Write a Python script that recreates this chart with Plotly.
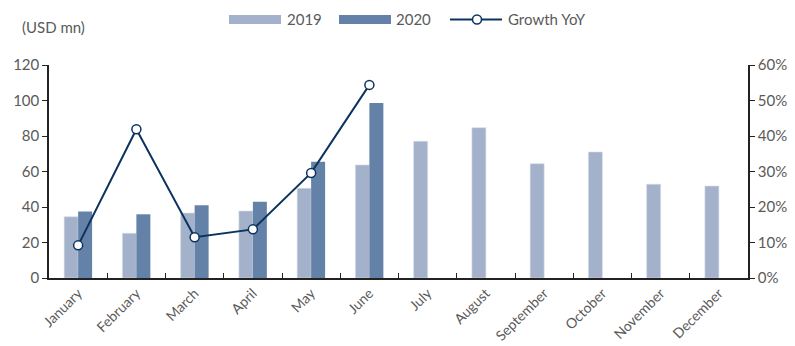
import plotly.graph_objects as go

months = ["January", "February", "March", "April", "May", "June", "July",
          "August", "September", "October", "November", "December"]
sales_2019 = [34.5, 25.2, 36.6, 37.7, 50.5, 63.7, 77.0, 84.7, 64.4, 71.0, 52.8, 51.8]
sales_2020 = [37.5, 35.9, 41.0, 43.0, 65.5, 98.6]
growth_yoy = [0.092, 0.419, 0.115, 0.137, 0.296, 0.544]

C2019 = "#A3B2CA"
C2020 = "#6482A7"
CLINE = "#0B335E"
TXT = "#5a5a5a"
FONT = "Lato"

W, H = 795, 346
L, R, T, B = 49, 47, 65, 68
PW, PH = W - L - R, H - T - B


def px(x):
    return (x - L) / PW


def py(y):
    return (H - B - y) / PH


fig = go.Figure()
fig.add_trace(go.Bar(x=months, y=sales_2019, name="2019", marker_color=C2019,
                     marker_line=dict(color="#D5DCE7", width=0.6), showlegend=False))
fig.add_trace(go.Bar(x=months[:len(sales_2020)], y=sales_2020, name="2020",
                     marker_color=C2020, marker_line_width=0, showlegend=False))
fig.add_trace(go.Scatter(x=months[:len(growth_yoy)], y=growth_yoy, name="Growth YoY",
                         yaxis="y2", mode="lines+markers",
                         line=dict(color=CLINE, width=2),
                         marker=dict(size=9, color="white", line=dict(color=CLINE, width=1.5)),
                         showlegend=False))

# manual legend
shapes = [
    dict(type="rect", xref="paper", yref="paper", x0=px(229), x1=px(281), y0=py(24), y1=py(15),
         fillcolor=C2019, line_width=0),
    dict(type="rect", xref="paper", yref="paper", x0=px(339), x1=px(391), y0=py(24), y1=py(15),
         fillcolor=C2020, line_width=0),
    dict(type="line", xref="paper", yref="paper", x0=px(450), x1=px(502), y0=py(19.5), y1=py(19.5),
         line=dict(color=CLINE, width=2)),
    dict(type="circle", xref="paper", yref="paper", x0=px(472.5), x1=px(481.5), y0=py(24), y1=py(15),
         fillcolor="white", line=dict(color=CLINE, width=1.5)),
]
LF = dict(size=15, color=TXT, family=FONT)
annotations = [
    dict(text="2019", xref="paper", yref="paper", x=px(285), y=py(19.5), xanchor="left",
         yanchor="middle", showarrow=False, font=LF),
    dict(text="2020", xref="paper", yref="paper", x=px(394), y=py(19.5), xanchor="left",
         yanchor="middle", showarrow=False, font=LF),
    dict(text="Growth YoY", xref="paper", yref="paper", x=px(506), y=py(19.5), xanchor="left",
         yanchor="middle", showarrow=False, font=LF),
    dict(text="(USD mn)", xref="paper", yref="paper", x=px(20), y=py(27), xanchor="left",
         yanchor="middle", showarrow=False, font=LF),
]

fig.update_layout(
    width=W, height=H,
    margin=dict(l=L, r=R, t=T, b=B),
    paper_bgcolor="white", plot_bgcolor="white",
    barmode="group", bargap=0.52, bargroupgap=0,
    font=dict(family=FONT, size=14, color=TXT),
    shapes=shapes, annotations=annotations,
    showlegend=False,
    xaxis=dict(type="category", categoryorder="array", categoryarray=months,
               range=[-0.5, len(months) - 0.5], autorange=False,
               tickangle=-45, showline=True, linecolor="#222", linewidth=1.5,
               ticks="inside", ticklen=5, tickcolor="#222", tickson="boundaries",
               showgrid=False, automargin=False,
               tickfont=dict(size=14, color=TXT, family=FONT)),
    yaxis=dict(range=[0, 120], dtick=20, showline=True, linecolor="#222", linewidth=1.5,
               ticks="outside", ticklen=5, tickcolor="#222", showgrid=False, zeroline=False,
               automargin=False,
               tickfont=dict(size=15, color=TXT, family=FONT)),
    yaxis2=dict(range=[0, 0.6], dtick=0.1, tickformat=".0%", overlaying="y", side="right",
                showline=True, linecolor="#222", linewidth=1.5, ticks="outside", ticklen=5,
                tickcolor="#222", showgrid=False, zeroline=False, automargin=False,
                tickfont=dict(size=15, color=TXT, family=FONT)),
)

fig.write_html("out.html")
